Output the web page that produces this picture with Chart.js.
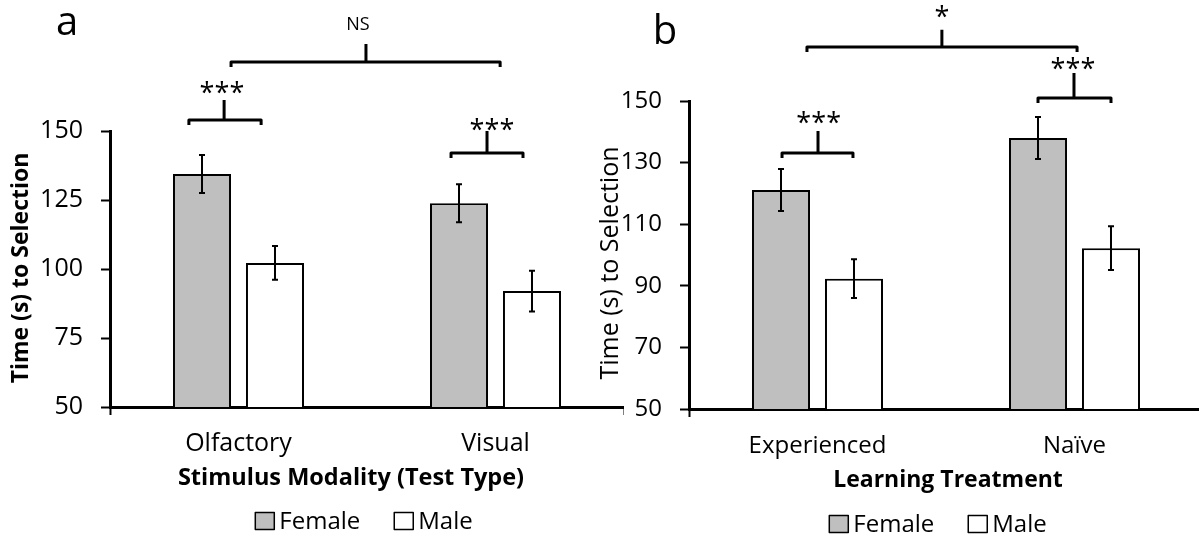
<!DOCTYPE html>
<html>
<head>
<meta charset="utf-8">
<title>Time to selection by sex</title>
<script src="https://cdn.jsdelivr.net/npm/chart.js@4.4.1/dist/chart.umd.min.js"></script>
<style>
  html, body { margin: 0; padding: 0; background: #fff; overflow: hidden; }
  body { width: 1199px; height: 539px; position: relative; }
  canvas { position: absolute; top: 0; }
  #panelA { left: 0; }
  #panelB { left: 599px; }
</style>
</head>
<body>
<canvas id="panelA" width="624" height="539"></canvas>
<canvas id="panelB" width="604" height="539"></canvas>
<script>
// (a) stimulus modality
const modalities = ['Olfactory', 'Visual'];
const femaleByModality = [134.4, 123.8];
const femaleSeModality = [6.9, 6.9];
const maleByModality = [102.2, 92.0];
const maleSeModality = [6.1, 7.4];
const ticksA = [50, 75, 100, 125, 150];

// (b) learning treatment
const treatments = ['Experienced', 'Naïve'];
const femaleByTreatment = [121.1, 138.0];
const femaleSeTreatment = [6.8, 6.8];
const maleByTreatment = [92.3, 102.2];
const maleSeTreatment = [6.3, 7.1];
const ticksB = [50, 70, 90, 110, 130, 150];

// significance brackets, x in category units, y in seconds
const bracketsA = [
  { from: -0.193, to: 0.088, stem: -0.056, y: 154.0, top: 161.2, text: '***', textX: -0.064, textY: 165.9 },
  { from: 0.827, to: 1.107, stem: 0.967, y: 142.0, top: 150.0, text: '***', textX: 0.986, textY: 152.5 },
  { from: -0.029, to: 1.018, stem: 0.496, y: 175.0, top: 181.5, text: 'NS', textX: 0.465, textY: 189.1 }
];
const bracketsB = [
  { from: -0.138, to: 0.138, stem: 0.002, y: 133.1, top: 140.3, text: '***', textX: 0.005, textY: 144.5 },
  { from: 0.858, to: 1.142, stem: 0.998, y: 151.0, top: 159.1, text: '***', textX: 0.994, textY: 162.3 },
  { from: -0.041, to: 1.010, stem: 0.484, y: 167.5, top: 173.1, text: '*', textX: 0.484, textY: 179.2 }
];

const FONT = '"Open Sans", "DejaVu Sans", sans-serif';
Chart.defaults.font.family = FONT;
Chart.defaults.color = '#000';

// draw text so the visible glyphs are centred on (cx, cy)
function centredText(ctx, str, cx, cy) {
  const m = ctx.measureText(str);
  ctx.textAlign = 'center';
  ctx.textBaseline = 'alphabetic';
  ctx.fillText(str, cx, cy + (m.actualBoundingBoxAscent - m.actualBoundingBoxDescent) / 2);
}

function drawSignif(ctx, text, cx, cy) {
  if (/^\*+$/.test(text)) {
    ctx.font = '27px ' + FONT;
    const n = text.length;
    for (let i = 0; i < n; i++) {
      centredText(ctx, '*', cx + (i - (n - 1) / 2) * 15, cy);
    }
  } else {
    ctx.font = '18px ' + FONT;
    centredText(ctx, text, cx, cy);
  }
}

const errorBars = {
  id: 'errorBars',
  afterDatasetsDraw(chart) {
    const { ctx } = chart;
    const y = chart.scales.y;
    ctx.save();
    ctx.strokeStyle = '#000';
    ctx.lineWidth = 2;
    chart.data.datasets.forEach((ds, i) => {
      chart.getDatasetMeta(i).data.forEach((bar, j) => {
        const hi = y.getPixelForValue(ds.data[j] + ds.se[j]);
        const lo = y.getPixelForValue(ds.data[j] - ds.se[j]);
        ctx.beginPath();
        ctx.moveTo(bar.x, hi); ctx.lineTo(bar.x, lo);
        ctx.moveTo(bar.x - 3, hi); ctx.lineTo(bar.x + 3, hi);
        ctx.moveTo(bar.x - 3, lo); ctx.lineTo(bar.x + 3, lo);
        ctx.stroke();
      });
    });
    ctx.restore();
  }
};

const annotations = {
  id: 'annotations',
  afterDraw(chart, args, opts) {
    const { ctx, chartArea } = chart;
    const { x, y } = chart.scales;
    ctx.save();
    ctx.strokeStyle = '#000';
    ctx.fillStyle = '#000';
    ctx.lineWidth = 3;
    ctx.lineJoin = 'round';

    opts.brackets.forEach(b => {
      const x0 = x.getPixelForValue(b.from);
      const x1 = x.getPixelForValue(b.to);
      const xs = x.getPixelForValue(b.stem);
      const yb = y.getPixelForValue(b.y);
      const yt = y.getPixelForValue(b.top);
      ctx.beginPath();
      ctx.moveTo(x0, yb + 5);
      ctx.lineTo(x0, yb);
      ctx.lineTo(x1, yb);
      ctx.lineTo(x1, yb + 5);
      ctx.moveTo(xs, yb);
      ctx.lineTo(xs, yt);
      ctx.stroke();
      drawSignif(ctx, b.text, x.getPixelForValue(b.textX), y.getPixelForValue(b.textY));
    });

    // panel letter
    ctx.font = '40px ' + FONT;
    centredText(ctx, opts.letter, opts.letterX, opts.letterY);

    // axis titles
    const xt = opts.xTitle, yt = opts.yTitle;
    ctx.font = 'bold ' + xt.size + 'px ' + FONT;
    centredText(ctx, xt.text, xt.x, xt.y);
    ctx.save();
    ctx.translate(yt.x, yt.y);
    ctx.rotate(-Math.PI / 2);
    ctx.font = yt.weight + ' ' + yt.size + 'px ' + FONT;
    centredText(ctx, yt.text, 0, 0);
    ctx.restore();

    // legend
    ctx.font = '24px ' + FONT;
    const items = chart.data.datasets.map(ds => ({
      label: ds.label, fill: ds.backgroundColor, w: ctx.measureText(ds.label).width
    }));
    const box = 19, gap = 5, spacing = 34;
    const total = items.reduce((s, it) => s + box + gap + it.w, 0) + spacing * (items.length - 1);
    let lx = (chartArea.left + chartArea.right) / 2 + opts.legendDx - total / 2;
    const ly = opts.legendY;
    items.forEach(it => {
      ctx.fillStyle = it.fill;
      ctx.fillRect(lx, ly - 8.5, box, 17);
      ctx.lineWidth = 1.5;
      ctx.strokeRect(lx, ly - 8.5, box, 17);
      ctx.fillStyle = '#000';
      ctx.textAlign = 'left';
      ctx.textBaseline = 'middle';
      ctx.fillText(it.label, lx + box + gap, ly + 1);
      lx += box + gap + it.w + spacing;
    });
    ctx.restore();
  }
};

function buildPanel(id, p) {
  return new Chart(document.getElementById(id), {
    type: 'bar',
    data: {
      labels: p.labels,
      datasets: [
        { label: 'Female', data: p.female, se: p.femaleSe, backgroundColor: '#bfbfbf',
          borderColor: '#000', borderWidth: 2, borderSkipped: false },
        { label: 'Male', data: p.male, se: p.maleSe, backgroundColor: '#ffffff',
          borderColor: '#000', borderWidth: 2, borderSkipped: false }
      ]
    },
    options: {
      responsive: false,
      animation: false,
      categoryPercentage: 0.568,
      barPercentage: 0.795,
      layout: { padding: { top: p.padTop, bottom: p.padBottom, left: 0, right: 0 } },
      plugins: {
        legend: { display: false },
        tooltip: { enabled: false },
        annotations: {
          brackets: p.brackets,
          letter: p.letter, letterX: p.letterX, letterY: p.letterY,
          xTitle: p.xTitle, yTitle: p.yTitle,
          legendDx: p.legendDx, legendY: p.legendY
        }
      },
      scales: {
        x: {
          grid: {
            drawOnChartArea: false, tickLength: 8, tickWidth: 2,
            tickColor: c => (c.index === 1 ? 'rgba(0,0,0,0)' : '#000')
          },
          border: { display: true, color: '#000', width: 3 },
          ticks: { font: { size: p.tickSize }, padding: p.xTickPad, color: '#000' },
          afterFit: s => { s.height = p.xHeight; }
        },
        y: {
          min: 50, max: 150,
          afterBuildTicks: s => { s.ticks = p.ticks.map(v => ({ value: v })); },
          grid: { drawOnChartArea: false, tickLength: 9, tickWidth: 2, tickColor: '#000' },
          border: { display: true, color: '#000', width: 3 },
          ticks: { font: { size: p.tickSize }, padding: 18, color: '#000' },
          afterFit: s => { s.width = p.yWidth; }
        }
      }
    },
    plugins: [errorBars, annotations]
  });
}

buildPanel('panelA', {
  labels: modalities,
  female: femaleByModality, femaleSe: femaleSeModality,
  male: maleByModality, maleSe: maleSeModality,
  ticks: ticksA, brackets: bracketsA,
  tickSize: 25, xTickPad: 14,
  xTitle: { text: 'Stimulus Modality (Test Type)', size: 23.5, x: 351, y: 479 },
  yTitle: { text: 'Time (s) to Selection', size: 23, weight: 'bold', x: 21, y: 268 },
  padTop: 131, padBottom: 42, xHeight: 90, yWidth: 110,
  letter: 'a', letterX: 67, letterY: 24, legendDx: -3, legendY: 521
});

buildPanel('panelB', {
  labels: treatments,
  female: femaleByTreatment, femaleSe: femaleSeTreatment,
  male: maleByTreatment, maleSe: maleSeTreatment,
  ticks: ticksB, brackets: bracketsB,
  tickSize: 24, xTickPad: 15,
  xTitle: { text: 'Learning Treatment', size: 23, x: 349, y: 481 },
  yTitle: { text: 'Time (s) to Selection', size: 25, weight: 'normal', x: 12, y: 263 },
  padTop: 101, padBottom: 40, xHeight: 90, yWidth: 90,
  letter: 'b', letterX: 66, letterY: 28, legendDx: -8, legendY: 524
});
</script>
</body>
</html>
